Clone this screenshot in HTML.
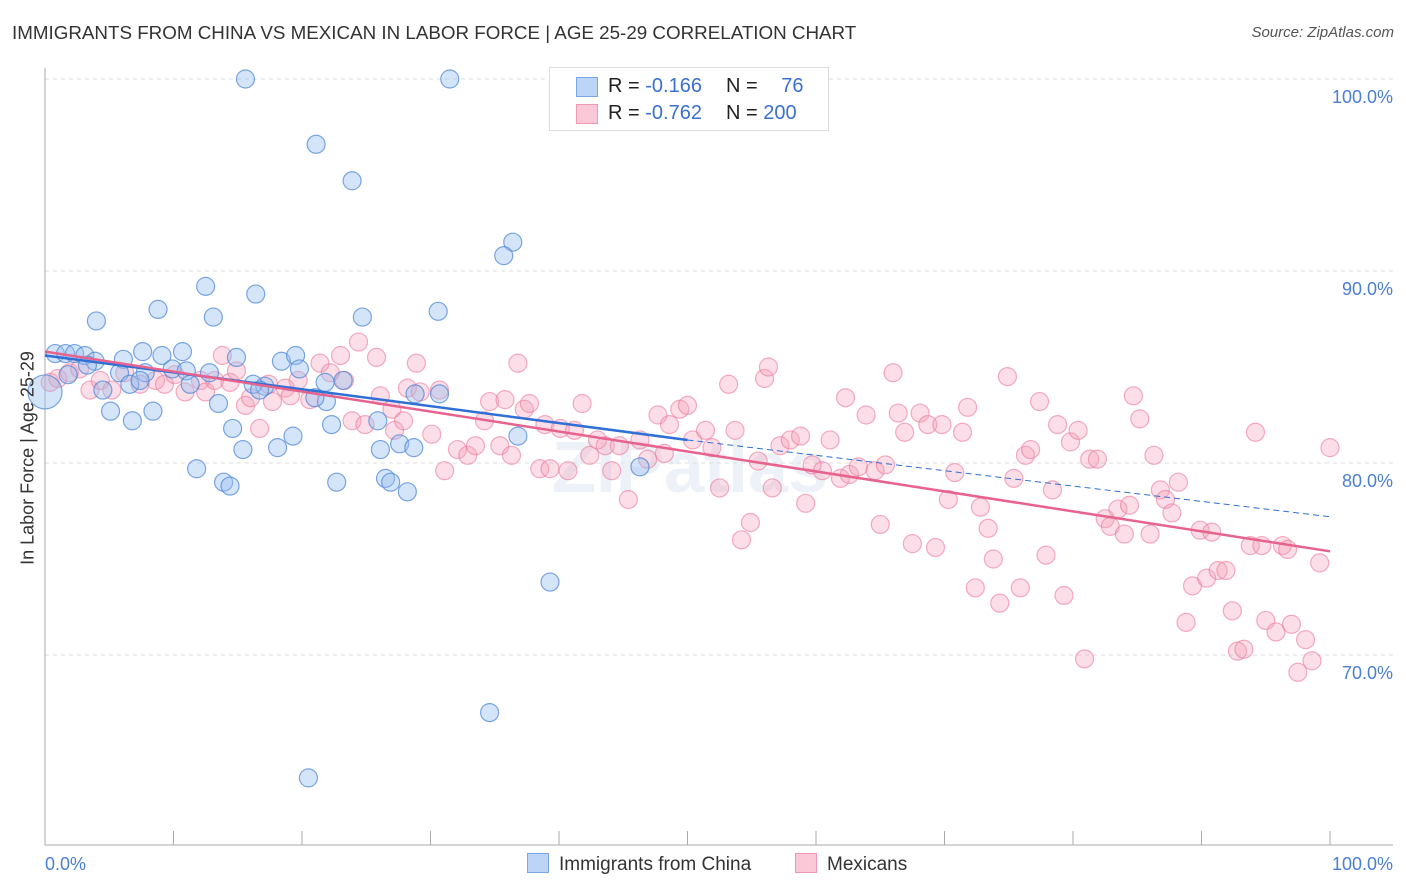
<!DOCTYPE html>
<html><head><meta charset="utf-8"><style>
body{margin:0;background:#fff;font-family:"Liberation Sans",sans-serif;}
#wrap{position:relative;width:1406px;height:892px;overflow:hidden;}
.t{position:absolute;white-space:nowrap;}
</style></head><body>
<div id="wrap">
<div class="t" style="left:12px;top:22px;font-size:18.8px;color:#333;">IMMIGRANTS FROM CHINA VS MEXICAN IN LABOR FORCE | AGE 25-29 CORRELATION CHART</div>
<div class="t" style="right:12px;top:24px;font-size:15px;color:#555;font-style:italic;">Source: ZipAtlas.com</div>
<svg id="svg" width="1406" height="892" style="position:absolute;left:0;top:0"></svg>
</div>
<script>
const yTicks=[100,90,80,70];
const yTickLabels=["100.0%","90.0%","80.0%","70.0%"];
const xTickLabels=["0.0%","100.0%"];
const blueX=[15.6,31.5,21.1,23.9,36.4,35.7,12.5,16.4,8.8,4.0,13.1,30.6,24.7,0.8,1.6,2.3,3.1,3.9,6.1,7.6,9.1,10.7,14.9,18.4,19.5,9.9,11.0,12.8,5.8,7.8,19.8,23.2,21.8,17.1,16.2,4.5,6.6,5.1,8.4,6.8,13.5,21.9,14.6,25.9,28.8,30.7,19.3,22.3,27.6,28.7,36.8,18.1,15.4,11.8,26.1,13.9,14.4,22.7,26.5,26.9,28.2,46.3,39.3,34.6,20.5,1.8,3.3,7.4,11.3,16.7,21.0,0];
const blueY=[100,100,96.6,94.7,91.5,90.8,89.2,88.8,88.0,87.4,87.6,87.9,87.6,85.7,85.7,85.7,85.6,85.3,85.4,85.8,85.6,85.8,85.5,85.3,85.6,84.9,84.8,84.7,84.7,84.7,84.9,84.3,84.2,84.0,84.1,83.8,84.1,82.7,82.7,82.2,83.1,83.2,81.8,82.2,83.6,83.6,81.4,82.0,81.0,80.8,81.4,80.8,80.7,79.7,80.7,79.0,78.8,79.0,79.2,79.0,78.5,79.8,73.8,67.0,63.6,84.6,85.1,84.3,84.1,83.8,83.4,83.7];
const pinkX=[0.4,1.0,1.9,2.7,3.5,4.3,5.2,6.2,7.4,8.6,9.3,10.1,10.9,12.1,12.5,13.8,13.2,14.4,14.9,15.6,16.0,16.7,17.4,17.7,18.7,19.1,19.7,20.6,21.4,22.2,23.0,23.3,24.4,25.8,23.9,24.9,26.1,27.0,27.2,27.9,28.2,28.9,29.2,30.1,30.7,31.1,32.1,32.9,33.5,34.2,34.6,35.4,35.8,36.3,36.8,37.3,37.7,38.5,38.9,39.3,40.1,40.7,41.2,41.8,42.4,43.0,43.6,44.1,44.7,45.4,46.3,46.9,47.7,48.2,48.6,49.4,50.0,50.4,51.4,51.9,52.5,53.2,53.7,54.2,54.9,55.5,56.0,56.3,56.6,57.2,58.0,58.8,59.2,59.7,60.5,61.1,61.9,62.3,62.6,63.3,63.9,64.6,65.0,65.4,66.0,66.4,66.9,67.5,68.1,68.7,69.3,69.8,70.3,70.8,71.4,71.8,72.4,72.8,73.4,73.8,74.3,74.9,75.4,75.9,76.3,76.7,77.4,77.9,78.4,78.8,79.3,79.8,80.4,80.9,81.3,81.9,82.5,82.9,83.5,84.0,84.4,84.7,85.2,86.0,86.3,86.8,87.2,87.7,88.2,88.8,89.3,89.9,90.4,90.8,91.3,91.9,92.4,92.8,93.3,93.8,94.2,94.7,95.0,95.8,96.3,96.7,97.0,97.5,98.1,98.6,99.2,100.0];
const pinkY=[84.2,84.4,84.7,84.9,83.8,84.3,83.8,84.7,84.1,84.3,84.1,84.6,83.7,84.3,83.7,85.6,84.3,84.2,84.8,83.0,83.4,81.8,84.1,83.2,83.9,83.5,84.3,83.3,85.2,84.7,85.6,84.3,86.3,85.5,82.2,82.0,83.5,82.8,81.7,82.2,83.9,85.2,83.7,81.5,83.8,79.6,80.7,80.4,80.9,82.2,83.2,80.9,83.3,80.4,85.2,82.8,83.1,79.7,82.0,79.7,81.8,79.6,81.7,83.1,80.4,81.2,80.9,79.6,80.9,78.1,81.2,80.2,82.5,80.5,82.0,82.8,83.0,81.2,81.7,80.8,78.7,84.1,81.7,76.0,76.9,80.1,84.4,85.0,78.7,80.9,81.2,81.4,77.9,79.9,79.6,81.2,79.2,83.4,79.4,79.8,82.5,79.6,76.8,79.9,84.7,82.6,81.6,75.8,82.6,82.0,75.6,82.0,78.1,79.5,81.6,82.9,73.5,77.7,76.6,75.0,72.7,84.5,79.2,73.5,80.4,80.7,83.2,75.2,78.6,82.0,73.1,81.1,81.7,69.8,80.2,80.2,77.1,76.7,77.6,76.3,77.8,83.5,82.3,76.3,80.4,78.6,78.1,77.4,79.0,71.7,73.6,76.5,74.0,76.4,74.4,74.4,72.3,70.2,70.3,75.7,81.6,75.7,71.8,71.2,75.7,75.5,71.6,69.1,70.8,69.7,74.8,80.8];
const blueTrend=[[0,85.6],[50,81.2],[100,77.2]];
const pinkTrend=[[0,85.8],[100,75.4]];
const X=v=>45+v*12.85, Y=v=>79+(100-v)*19.2;
const svg=document.getElementById('svg'),NS='http://www.w3.org/2000/svg';
function mk(t,a,p){const e=document.createElementNS(NS,t);for(const k in a)e.setAttribute(k,a[k]);(p||svg).appendChild(e);return e;}
let wm=mk('text',{x:690,y:492,'font-size':72,'font-weight':'bold','text-anchor':'middle',fill:'#edf1f8','font-family':'Liberation Sans, sans-serif'});
wm.textContent='ZIPatlas';


yTicks.forEach((v,i)=>{
 let g=mk('line',{x1:45,x2:1393,y1:Y(v),y2:Y(v),stroke:'#ddd','stroke-dasharray':'4,4'});
 
 
 let t=mk('text',{x:1393,y:Y(v)+24,'font-size':18,fill:'#4a7fd4','text-anchor':'end','font-family':'Liberation Sans, sans-serif'});
 t.textContent=yTickLabels[i];
 
 
});
let ax=mk('line',{x1:45,x2:45,y1:68,y2:845,stroke:'#aaa'});


let bx=mk('line',{x1:45,x2:1393,y1:845,y2:845,stroke:'#aaa'});


for(let i=0;i<=10;i++){let tk=mk('line',{x1:X(i*10),x2:X(i*10),y1:831,y2:845,stroke:'#aaa'});
 
 }
[[0,'start',45],[1,'end',1393]].forEach(([i,a,x])=>{let t=mk('text',{x:x,y:870,'font-size':18,fill:'#4a7fd4','text-anchor':a,'font-family':'Liberation Sans, sans-serif'});t.textContent=xTickLabels[i];
 
 });
pinkX.forEach((x,i)=>{let c=mk('circle',{cx:X(x),cy:Y(pinkY[i]),r:9,fill:'rgba(244,160,185,0.35)',stroke:'rgba(236,120,155,0.6)','stroke-width':1.2});
 
 });
blueX.forEach((x,i)=>{let big=i===blueX.length-1;let c=mk('circle',{cx:X(x),cy:Y(blueY[i]),r:big?17:9,fill:'rgba(150,190,240,0.4)',stroke:'rgba(70,130,215,0.7)','stroke-width':1.2});
 
 });
let b1=mk('line',{x1:X(blueTrend[0][0]),y1:Y(blueTrend[0][1]),x2:X(blueTrend[1][0]),y2:Y(blueTrend[1][1]),stroke:'#2f6fd6','stroke-width':2.5});


let b2=mk('line',{x1:X(blueTrend[1][0]),y1:Y(blueTrend[1][1]),x2:X(blueTrend[2][0]),y2:Y(blueTrend[2][1]),stroke:'#2f6fd6','stroke-width':1,'stroke-dasharray':'6,4'});


let p1=mk('line',{x1:X(pinkTrend[0][0]),y1:Y(pinkTrend[0][1]),x2:X(pinkTrend[1][0]),y2:Y(pinkTrend[1][1]),stroke:'#e8628e','stroke-width':2.5});


</script>
<div class="t" style="left:549px;top:67px;width:278px;height:62px;border:1px solid #ddd;background:#fff;font-size:20px;color:#222;">
 <div style="position:absolute;left:26px;top:9px;width:20px;height:18px;background:#bcd4f6;border:1px solid #7aa6e6"></div>
 <div style="position:absolute;left:58px;top:7px">R = <span style="color:#3a70d0">-0.166</span></div>
 <div style="position:absolute;left:176px;top:7px">N = <span style="color:#3a70d0;margin-left:18px">76</span></div>
 <div style="position:absolute;left:26px;top:36px;width:20px;height:18px;background:#fac8d6;border:1px solid #ee9ab4"></div>
 <div style="position:absolute;left:58px;top:34px">R = <span style="color:#3a70d0">-0.762</span></div>
 <div style="position:absolute;left:176px;top:34px">N = <span style="color:#3a70d0">200</span></div>
</div>
<div class="t" style="left:28px;top:458px;font-size:18px;color:#333;transform:translate(-50%,-50%) rotate(-90deg);">In Labor Force | Age 25-29</div>
<div class="t" style="left:527px;top:853px;font-size:19px;color:#333;"><span style="display:inline-block;width:20px;height:18px;background:#bcd4f6;border:1px solid #7aa6e6;vertical-align:-3px;margin-right:10px"></span>Immigrants from China</div>
<div class="t" style="left:795px;top:853px;font-size:19px;color:#333;"><span style="display:inline-block;width:20px;height:18px;background:#fac8d6;border:1px solid #ee9ab4;vertical-align:-3px;margin-right:10px"></span>Mexicans</div>
</body></html>
